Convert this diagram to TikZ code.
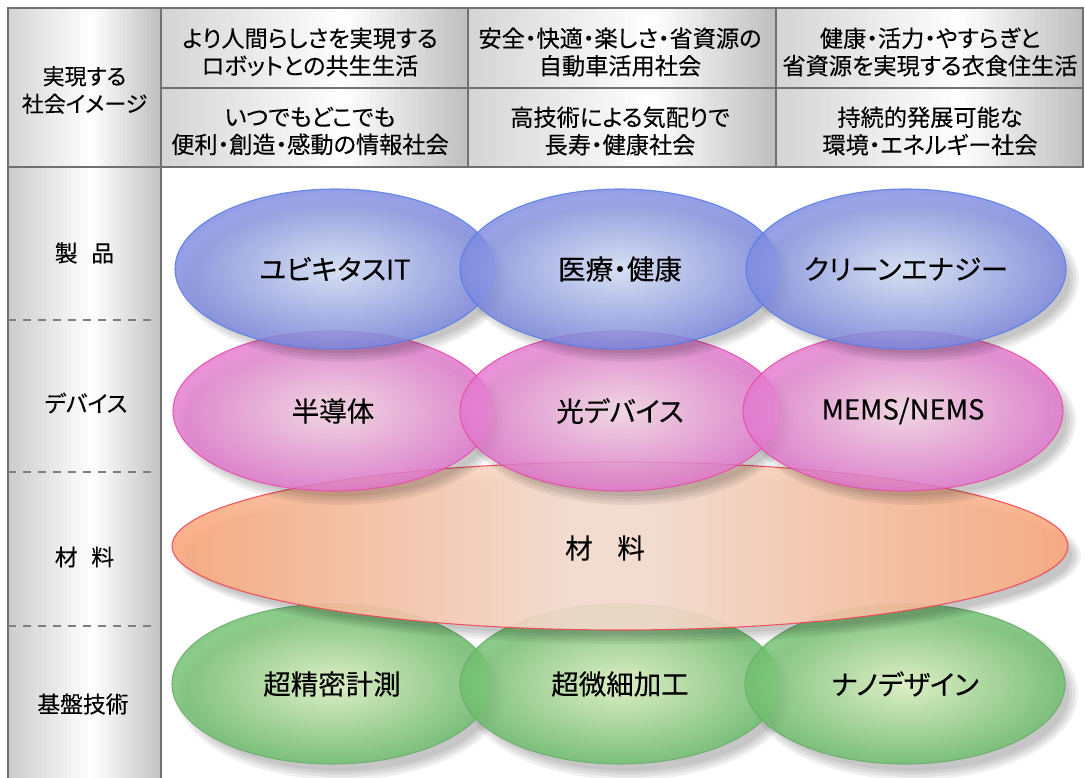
\documentclass[tikz,border=0pt]{standalone}
\usepackage{fontspec}
\setmainfont{Noto Sans CJK JP}[RawFeature=+palt, FakeBold=0.2]
\usetikzlibrary{shapes.geometric}
\definecolor{gridline}{RGB}{112,112,112}
\definecolor{cellA}{RGB}{212,212,212}
\definecolor{cellC}{RGB}{190,190,190}
\definecolor{colL}{RGB}{204,204,204}
\definecolor{colR}{RGB}{196,196,196}
\definecolor{blueIn}{RGB}{218,230,252}
\definecolor{blueOut}{RGB}{124,136,224}
\definecolor{blueLine}{RGB}{86,126,232}
\definecolor{pinkIn}{RGB}{250,218,232}
\definecolor{pinkOut}{RGB}{226,118,206}
\definecolor{pinkLine}{RGB}{232,76,168}
\definecolor{orL}{RGB}{247,222,208}
\definecolor{orR}{RGB}{250,168,124}
\definecolor{orLine}{RGB}{240,64,80}
\definecolor{grIn}{RGB}{226,248,196}
\definecolor{grOut}{RGB}{108,190,108}
\definecolor{grLine}{RGB}{108,172,108}
\pgfdeclarehorizontalshading{orshade}{100bp}{color(0bp)=(orR); color(25bp)=(orR); color(47bp)=(orL); color(52bp)=(orL); color(75bp)=(orR); color(100bp)=(orR)}
\newcommand\softshadow[4]{%
  \foreach \k in {0,3,6,9}{\fill[black,opacity=0.06] (#1+9,#2+10) ellipse [x radius=#3+\k-5, y radius=#4+\k-5];}}
% box with a horizontal grey-white-grey gradient made of strips
% x1 y1 x2 y2 frac leftcolor rightcolor
\newcommand\gradbox[7]{%
  \pgfmathsetmacro\gxm{#1+#5*(#3-#1)}%
  \foreach \i in {0,...,19}{%
    \pgfmathsetmacro\gpa{#1+(\gxm-#1)*\i/20}%
    \pgfmathsetmacro\gpb{#1+(\gxm-#1)*(\i+1)/20+0.6}%
    \pgfmathsetmacro\gpc{100*(\i+0.5)/20}%
    \fill[white!\gpc!#6] (\gpa,#2) rectangle (\gpb,#4);}
  \foreach \i in {0,...,19}{%
    \pgfmathsetmacro\gpa{\gxm+(#3-\gxm)*\i/20}%
    \pgfmathsetmacro\gpb{min(\gxm+(#3-\gxm)*(\i+1)/20+0.6,#3)}%
    \pgfmathsetmacro\gpc{100*(\i+0.5)/20}%
    \fill[#7!\gpc!white] (\gpa,#2) rectangle (\gpb,#4);}
  \draw[frame] (#1,#2) rectangle (#3,#4);}
\tikzset{
  frame/.style={draw=gridline, line width=1.4pt},
  head/.style={align=center, font=\fontsize{23.2}{27.5}\selectfont, inner sep=0},
  rowlab/.style={font=\fontsize{22.8}{24}\selectfont, inner sep=0},
  ell/.style={ellipse, minimum width=320, minimum height=160, inner sep=0, line width=1.1pt,
    fill opacity=0.82, draw opacity=0.85, text opacity=1, font=\fontsize{27.5}{30}\selectfont},
  blueE/.style={ell, draw=blueLine, inner color=blueIn, outer color=blueOut},
  pinkE/.style={ell, draw=pinkLine, inner color=pinkIn, outer color=pinkOut},
  greenE/.style={ell, draw=grLine, inner color=grIn, outer color=grOut},
  orE/.style={ell, minimum width=896, minimum height=168, draw=orLine, shade, shading=orshade, fill opacity=0.9},
  dash line/.style={draw=gridline!90, line width=1.3pt, dash pattern=on 8pt off 7pt}
}
\begin{document}
\begin{tikzpicture}[x=1pt,y=-1pt]
\useasboundingbox[fill=white] (0,0) rectangle (1085,778);
% header
\gradbox{8}{8}{161}{167}{0.55}{cellA}{cellC}
\gradbox{161}{8}{468}{88}{0.6}{cellA}{cellC}
\gradbox{468}{8}{776}{88}{0.6}{cellA}{cellC}
\gradbox{776}{8}{1083}{88}{0.6}{cellA}{cellC}
\gradbox{161}{88}{468}{167}{0.6}{cellA}{cellC}
\gradbox{468}{88}{776}{167}{0.6}{cellA}{cellC}
\gradbox{776}{88}{1083}{167}{0.6}{cellA}{cellC}
\node[head, font=\fontsize{22}{27.5}\selectfont] (h0) at (84.5,90) {実現する\\社会イメージ};
\node[head] (h11) at (310,52) {より人間らしさを実現する\\ロボットとの共生生活};
\node[head] (h12) at (620,52) {安全・快適・楽しさ・省資源の\\自動車活用社会};
\node[head] (h13) at (930,52) {健康・活力・やすらぎと\\省資源を実現する衣食住生活};
\node[head] (h21) at (310,131) {いつでもどこでも\\便利・創造・感動の情報社会};
\node[head] (h22) at (620,131) {高技術による気配りで\\長寿・健康社会};
\node[head] (h23) at (930,131) {持続的発展可能な\\環境・エネルギー社会};
% left column
\gradbox{8}{167}{161}{790}{0.55}{colL}{colR}
\draw[dash line] (8,320) -- (158,320);
\draw[dash line] (8,472) -- (158,472);
\draw[dash line] (8,626) -- (158,626);
\node[rowlab] (r1) at (84.5,253) {製\hspace{0.6em}品};
\node[rowlab] (r2) at (86,403) {デバイス};
\node[rowlab] (r3) at (84.5,557) {材\hspace{0.6em}料};
\node[rowlab] (r4) at (83,704) {基盤技術};
% bottom row
\softshadow{332}{684}{160}{82}
\softshadow{620}{684}{160}{82}
\softshadow{905}{684}{160}{82}
\node[greenE] (b1) at (332,684) {超精密計測};
\node[greenE] (b2) at (620,684) {超微細加工};
\node[greenE] (b3) at (905,684) {ナノデザイン};
% materials
\softshadow{620}{546}{448}{84}
\node[orE] (m1) at (620,546) {};
\node[font=\fontsize{27.5}{30}\selectfont, inner sep=0] (m1t) at (605,548) {材\hspace{0.9em}料};
% devices
\softshadow{333}{411}{160}{80}
\softshadow{620}{411}{160}{80}
\softshadow{903}{411}{160}{80}
\node[pinkE] (d1) at (333,411) {半導体};
\node[pinkE] (d2) at (620,411) {光デバイス};
\node[pinkE] (d3) at (903,411) {MEMS/NEMS};
% products
\softshadow{335}{269}{160}{79}
\softshadow{620}{269}{160}{79}
\softshadow{906}{269}{160}{79}
\node[blueE] (p1) at (335,269) {ユビキタスIT};
\node[blueE] (p2) at (620,269) {医療・健康};
\node[blueE] (p3) at (906,269) {クリーンエナジー};
\end{tikzpicture}
\end{document}
